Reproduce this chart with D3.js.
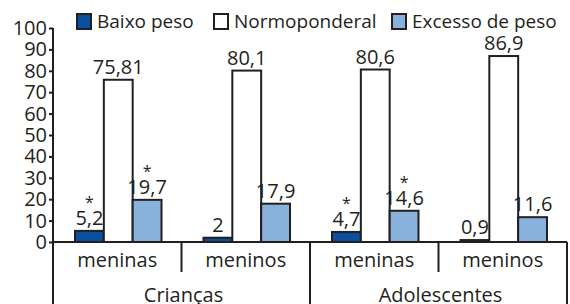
<!DOCTYPE html>
<html>
<head>
<meta charset="utf-8">
<script src="https://cdn.jsdelivr.net/npm/d3@7"></script>
<style>
  html, body { margin: 0; padding: 0; background: #fff; }
  svg text { font-family: "Open Sans", sans-serif; fill: #231f20; }
</style>
</head>
<body>
<div id="chart"></div>
<script>
// data
const groups = ["Crianças", "Adolescentes"];
const subgroups = ["meninas", "meninos", "meninas", "meninos"];
const series = ["Baixo peso", "Normoponderal", "Excesso de peso"];
const baixoPeso = [5.2, 2, 4.7, 0.9];
const normoponderal = [75.81, 80.1, 80.6, 86.9];
const excessoPeso = [19.7, 17.9, 14.6, 11.6];
// asterisks (significance) per series
const baixoSig = [true, false, true, false];
const normoSig = [false, false, false, false];
const excessoSig = [true, false, true, false];
const yTicks = [0, 10, 20, 30, 40, 50, 60, 70, 80, 90, 100];

const width = 570;
const height = 304;
const ink = "#231f20";
const colors = ["#0b4f9e", "#ffffff", "#88b2db"];

const svg = d3.select("#chart").append("svg")
    .attr("width", width)
    .attr("height", height);

const values = [baixoPeso, normoponderal, excessoPeso];
const sigs = [baixoSig, normoSig, excessoSig];
const fmt = v => String(v).replace(".", ",");

// scales
const x0 = d3.scaleBand()
    .domain(d3.range(subgroups.length))
    .range([53, 567]);

// bars sit slightly left of the band centre
const x1 = d3.scaleBand()
    .domain(d3.range(series.length))
    .range([22, 108.5]);

const y = d3.scaleLinear()
    .domain([0, 100])
    .range([242, 28]);

// y axis
const yAxis = svg.append("g")
    .attr("transform", `translate(${x0.range()[0]},0)`)
    .call(d3.axisLeft(y).tickValues(yTicks).tickSize(4).tickPadding(2));
yAxis.select(".domain").remove();
yAxis.selectAll("line").attr("stroke", ink).attr("stroke-width", 2);
yAxis.selectAll("text")
    .attr("font-family", "Open Sans, sans-serif")
    .attr("font-size", 20)
    .attr("fill", ink);

// bars
const cells = [];
subgroups.forEach((s, i) => {
  series.forEach((name, j) => {
    cells.push({i, j, v: values[j][i], sig: sigs[j][i]});
  });
});

svg.append("g").selectAll("rect")
  .data(cells)
  .join("rect")
    .attr("x", d => x0(d.i) + x1(d.j))
    .attr("y", d => y(d.v))
    .attr("width", x1.bandwidth())
    .attr("height", d => y(0) - y(d.v))
    .attr("fill", d => colors[d.j])
    .attr("stroke", ink)
    .attr("stroke-width", 2);

// value labels
svg.append("g").selectAll("text")
  .data(cells)
  .join("text")
    .attr("x", d => x0(d.i) + x1(d.j) + x1.bandwidth() / 2)
    .attr("y", d => y(d.v) - 6)
    .attr("text-anchor", "middle")
    .attr("font-size", 20)
    .text(d => fmt(d.v));

svg.append("g").selectAll("text")
  .data(cells.filter(d => d.sig))
  .join("text")
    .attr("x", d => x0(d.i) + x1(d.j) + x1.bandwidth() / 2)
    .attr("y", d => y(d.v) - 23)
    .attr("text-anchor", "middle")
    .attr("font-size", 16)
    .text("*");

// axes lines
const base = y(0);
svg.append("line")
    .attr("x1", x0.range()[0]).attr("x2", x0.range()[1])
    .attr("y1", base).attr("y2", base)
    .attr("stroke", ink).attr("stroke-width", 2);

svg.append("line")
    .attr("x1", x0.range()[0]).attr("x2", x0.range()[0])
    .attr("y1", y(100)).attr("y2", height)
    .attr("stroke", ink).attr("stroke-width", 2);

// separators: short between subgroups, long between groups
const bounds = d3.range(1, subgroups.length + 1);
svg.append("g").selectAll("line")
  .data(bounds)
  .join("line")
    .attr("x1", d => x0(d - 1) + x0.bandwidth())
    .attr("x2", d => x0(d - 1) + x0.bandwidth())
    .attr("y1", base)
    .attr("y2", d => d % 2 === 0 ? height : 272)
    .attr("stroke", ink).attr("stroke-width", 2);

// subgroup labels
svg.append("g").selectAll("text")
  .data(subgroups)
  .join("text")
    .attr("x", (d, i) => x0(i) + x0.bandwidth() / 2)
    .attr("y", 267)
    .attr("text-anchor", "middle")
    .attr("font-size", 20)
    .text(d => d);

// group labels
svg.append("g").selectAll("text")
  .data(groups)
  .join("text")
    .attr("x", (d, g) => x0(g * 2) + x0.bandwidth() + 2)
    .attr("y", 302)
    .attr("text-anchor", "middle")
    .attr("font-size", 20)
    .text(d => d);

// legend
const legendX = [77, 214, 392];
const legend = svg.append("g").selectAll("g")
  .data(series)
  .join("g")
    .attr("transform", (d, j) => `translate(${legendX[j]},0)`);

legend.append("rect")
    .attr("y", 14)
    .attr("width", 14).attr("height", 15)
    .attr("fill", (d, j) => colors[j])
    .attr("stroke", ink).attr("stroke-width", 2);

legend.append("text")
    .attr("x", 20).attr("y", 28)
    .attr("font-size", 19)
    .text(d => d);
</script>
</body>
</html>
